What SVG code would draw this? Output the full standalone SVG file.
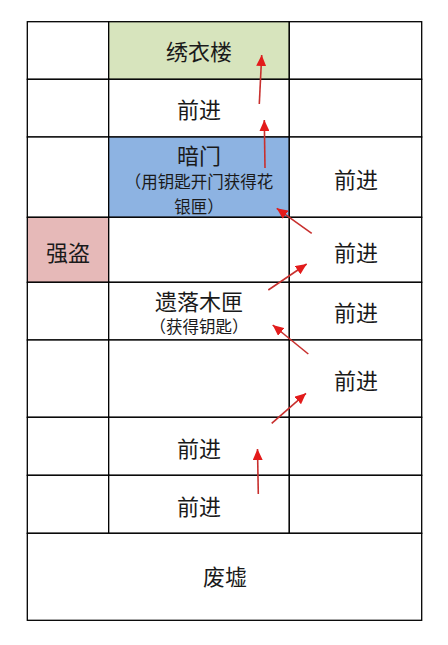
<svg xmlns="http://www.w3.org/2000/svg" width="448" height="645" viewBox="0 0 448 645">
  <style>
    .cell { fill: #ffffff; stroke: #000000; stroke-width: 1.3; }
    .green { fill: #d7e4bd; }
    .blue { fill: #8db3e2; }
    .pink { fill: #e6b9b8; }
    .t { font-family: "Noto Sans CJK SC", "Noto Sans", sans-serif; font-size: 22px; fill: #1a1a1a; text-anchor: middle; }
    .s { font-size: 16.5px; }
    .arrow { stroke: #c8302e; stroke-width: 1.6; fill: none; marker-end: url(#head); }
  </style>
  <defs>
    <marker id="head" markerUnits="userSpaceOnUse" markerWidth="12" markerHeight="10" refX="11" refY="5" orient="auto">
      <path d="M0,0 L11,5 L0,10 Z" fill="#e31b1b"/>
    </marker>
  </defs>
  <rect x="0" y="0" width="448" height="645" fill="#ffffff"/>

  <g id="r0c0"><rect class="cell" x="27.3" y="21.7" width="81.4" height="57.6"/></g>
  <g id="xiuyilou"><rect class="cell green" x="108.7" y="21.7" width="180.6" height="57.6"/><text class="t" x="199" y="60">绣衣楼</text></g>
  <g id="r0c2"><rect class="cell" x="289.3" y="21.7" width="132.4" height="57.6"/></g>

  <g id="r1c0"><rect class="cell" x="27.3" y="79.3" width="81.4" height="57.7"/></g>
  <g id="fwd1"><rect class="cell" x="108.7" y="79.3" width="180.6" height="57.7"/><text class="t" x="199" y="118.3">前进</text></g>
  <g id="r1c2"><rect class="cell" x="289.3" y="79.3" width="132.4" height="57.7"/></g>

  <g id="r2c0"><rect class="cell" x="27.3" y="137" width="81.4" height="80.3"/></g>
  <g id="anmen"><rect class="cell blue" x="108.7" y="137" width="180.6" height="80.3"/>
    <text class="t" x="199" y="164">暗门</text>
    <text class="t s" x="199" y="188">（用钥匙开门获得花</text>
    <text class="t s" x="199" y="213">银匣）</text></g>
  <g id="fwdR2"><rect class="cell" x="289.3" y="137" width="132.4" height="80.3"/><text class="t" x="356" y="188.3">前进</text></g>

  <g id="qiangdao"><rect class="cell pink" x="27.3" y="217.3" width="81.4" height="65"/><text class="t" x="68" y="260.6">强盗</text></g>
  <g id="r3c1"><rect class="cell" x="108.7" y="217.3" width="180.6" height="65"/></g>
  <g id="fwdR3"><rect class="cell" x="289.3" y="217.3" width="132.4" height="65"/><text class="t" x="356" y="260.6">前进</text></g>

  <g id="r4c0"><rect class="cell" x="27.3" y="282.3" width="81.4" height="57.7"/></g>
  <g id="muxia"><rect class="cell" x="108.7" y="282.3" width="180.6" height="57.7"/>
    <text class="t" x="199" y="310">遗落木匣</text>
    <text class="t s" x="199" y="333">（获得钥匙）</text></g>
  <g id="fwdR4"><rect class="cell" x="289.3" y="282.3" width="132.4" height="57.7"/><text class="t" x="356" y="320.6">前进</text></g>

  <g id="r5c0"><rect class="cell" x="27.3" y="340" width="81.4" height="77.3"/></g>
  <g id="r5c1"><rect class="cell" x="108.7" y="340" width="180.6" height="77.3"/></g>
  <g id="fwdR5"><rect class="cell" x="289.3" y="340" width="132.4" height="77.3"/><text class="t" x="356" y="389">前进</text></g>

  <g id="r6c0"><rect class="cell" x="27.3" y="417.3" width="81.4" height="58"/></g>
  <g id="fwd6"><rect class="cell" x="108.7" y="417.3" width="180.6" height="58"/><text class="t" x="199" y="457.3">前进</text></g>
  <g id="r6c2"><rect class="cell" x="289.3" y="417.3" width="132.4" height="58"/></g>

  <g id="r7c0"><rect class="cell" x="27.3" y="475.3" width="81.4" height="58"/></g>
  <g id="fwd7"><rect class="cell" x="108.7" y="475.3" width="180.6" height="58"/><text class="t" x="199" y="515">前进</text></g>
  <g id="r7c2"><rect class="cell" x="289.3" y="475.3" width="132.4" height="58"/></g>

  <g id="feixu"><rect class="cell" x="27.3" y="533.3" width="394.4" height="87"/><text class="t" x="225" y="585">废墟</text></g>

  <g id="connectors">
    <line class="arrow" x1="258.3" y1="494" x2="257.5" y2="449"/>
    <line class="arrow" x1="271.7" y1="423.3" x2="306" y2="393.3"/>
    <line class="arrow" x1="308.3" y1="354" x2="272.7" y2="325"/>
    <line class="arrow" x1="268.3" y1="290" x2="306.7" y2="264"/>
    <line class="arrow" x1="311.7" y1="233.3" x2="276.7" y2="208.3"/>
    <line class="arrow" x1="265" y1="168" x2="264.3" y2="120"/>
    <line class="arrow" x1="259.3" y1="104" x2="261.7" y2="55"/>
  </g>
</svg>
